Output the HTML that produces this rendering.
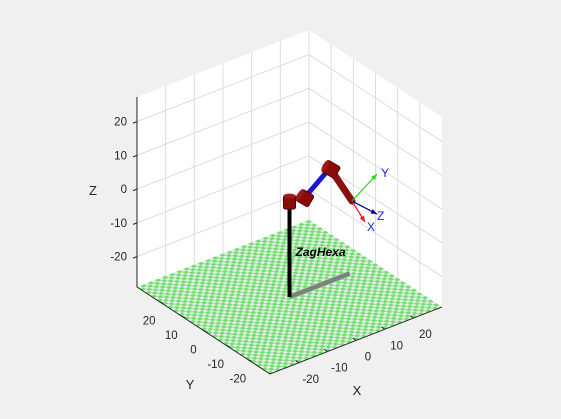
<!DOCTYPE html>
<html><head><meta charset="utf-8"><style>
html,body{margin:0;padding:0;background:#f0f0f0;}
svg{display:block;font-family:"Liberation Sans",sans-serif;}
</style></head><body>
<svg id="c" width="561" height="419" viewBox="0 0 561 419" xmlns="http://www.w3.org/2000/svg">
<rect x="0" y="0" width="561" height="419" fill="#f0f0f0"/>
<g id="walls"></g><g id="floor"></g><g id="axes"></g><g id="robot"></g>
</svg>
<script>
const xTicks=[-20,-10,0,10,20];
const yTicks=[-20,-10,0,10,20];
const zTicks=[-20,-10,0,10,20];
const xLim=[-30,30], yLim=[-30,30], zLim=[-29,27.3];
// robot joint positions (x,y,z)
const jointX=[0,5.4,14.1,21.8];
const jointY=[0,0,0,0];
const jointZ=[0,-1.2,4.5,-7.8];
const baseBarEnd=[21,0];
const NS="http://www.w3.org/2000/svg";
const O=[289.5,199.1], EX=[2.867,-1.117], EY=[-2.217,-1.45], EZ=3.375;
function P(x,y,z){return [O[0]+x*EX[0]+y*EY[0], O[1]+x*EX[1]+y*EY[1]-z*EZ];}
function el(parent,tag,attrs,name){const e=document.createElementNS(NS,tag);for(const k in attrs)e.setAttribute(k,attrs[k]);


document.getElementById(parent).appendChild(e);return e;}
function pts(a){return a.map(p=>p.join(',')).join(' ');}
const x0=xLim[0],x1=xLim[1],y0=yLim[0],y1=yLim[1],z0=zLim[0],z1=zLim[1];
// walls
el('walls','polygon',{points:pts([P(x0,y1,z1),P(x1,y1,z1),P(x1,y0,z1),P(x1,y0,z0),P(x1,y1,z0),P(x0,y1,z0)]),fill:'#fff'},'axes-background');
xTicks.forEach(t=>{const a=P(t,y1,z0),b=P(t,y1,z1);el('walls','line',{x1:a[0],y1:a[1],x2:b[0],y2:b[1],stroke:'#dcdcdc'},'x-grid-line');});
yTicks.forEach(t=>{const a=P(x1,t,z0),b=P(x1,t,z1);el('walls','line',{x1:a[0],y1:a[1],x2:b[0],y2:b[1],stroke:'#dcdcdc'},'y-grid-line');});
{const a=P(x1,y1,z0),b=P(x1,y1,z1);el('walls','line',{x1:a[0],y1:a[1],x2:b[0],y2:b[1],stroke:'#dcdcdc'},'corner-grid-line');}
zTicks.forEach(t=>{el('walls','polyline',{points:pts([P(x0,y1,t),P(x1,y1,t),P(x1,y0,t)]),fill:'none',stroke:'#dcdcdc'},'z-grid-line');});
// floor
el('floor','polygon',{points:pts([P(x0,y0,z0),P(x1,y0,z0),P(x1,y1,z0),P(x0,y1,z0)]),fill:'#e2ece2'},'floor-plane');
let d='';const N=48,s=60/N;
for(let i=0;i<N;i++)for(let j=0;j<N;j++){if((i+j)%2)continue;const xa=x0+i*s,ya=y0+j*s;
const q=[P(xa,ya,z0),P(xa+s,ya,z0),P(xa+s,ya+s,z0),P(xa,ya+s,z0)];d+='M'+q.map(p=>p[0].toFixed(1)+' '+p[1].toFixed(1)).join('L')+'Z';}
el('floor','path',{d:d,fill:'#6fe06f'},'floor-checker');
// axes lines
el('axes','polyline',{points:pts([P(x0,y1,z1),P(x0,y1,z0),P(x0,y0,z0),P(x1,y0,z0)]),fill:'none',stroke:'#262626','stroke-width':1},'axis-lines');
zTicks.forEach(t=>{const p=P(x0,y1,t);el('axes','line',{x1:p[0],y1:p[1],x2:p[0]-4,y2:p[1]+1.5,stroke:'#262626'},'z-tick');
const tx=el('axes','text',{x:p[0]-10,y:p[1]+4,'font-size':11.5,'text-anchor':'end',fill:'#262626'},'z-tick-label');tx.textContent=t;});
yTicks.forEach(t=>{const p=P(x0,t,z0);el('axes','line',{x1:p[0],y1:p[1],x2:p[0]+4,y2:p[1]+1.8,stroke:'#262626'},'y-tick');
const tx=el('axes','text',{x:p[0]-10,y:p[1]+23,'font-size':11.5,'text-anchor':'middle',fill:'#262626'},'y-tick-label');tx.textContent=t;});
xTicks.forEach(t=>{const p=P(t,y0,z0);el('axes','line',{x1:p[0],y1:p[1],x2:p[0]-3,y2:p[1]-2.5,stroke:'#262626'},'x-tick');
const tx=el('axes','text',{x:p[0]+12,y:p[1]+20,'font-size':11.5,'text-anchor':'middle',fill:'#262626'},'x-tick-label');tx.textContent=t;});
let t=el('axes','text',{x:93,y:195,'font-size':13,'text-anchor':'middle',fill:'#262626'},'z-axis-title');t.textContent='Z';
t=el('axes','text',{x:190,y:389,'font-size':13,'text-anchor':'middle',fill:'#262626'},'y-axis-title');t.textContent='Y';
t=el('axes','text',{x:357,y:395,'font-size':13,'text-anchor':'middle',fill:'#262626'},'x-axis-title');t.textContent='X';
// robot
const J=jointX.map((x,i)=>P(x,jointY[i],jointZ[i]));
const B=P(0,0,z0), BE=P(baseBarEnd[0],baseBarEnd[1],z0);
el('robot','line',{x1:B[0],y1:B[1],x2:BE[0],y2:BE[1],stroke:'#808080','stroke-width':4.5},'base-bar');
el('robot','line',{x1:B[0],y1:B[1],x2:J[0][0],y2:J[0][1],stroke:'#000','stroke-width':4},'base-pole');
t=el('robot','text',{x:J[0][0]+6,y:B[1]-41,'font-size':12,'font-weight':'bold','font-style':'italic',fill:'#000'},'robot-name-label');t.textContent='ZagHexa';
el('robot','line',{x1:J[1][0],y1:J[1][1],x2:J[2][0],y2:J[2][1],stroke:'#1a1acc','stroke-width':5},'link-2');
el('robot','line',{x1:J[0][0],y1:J[0][1],x2:J[1][0],y2:J[1][1],stroke:'#1a1acc','stroke-width':5},'link-1');
el('robot','line',{x1:J[2][0],y1:J[2][1],x2:J[3][0],y2:J[3][1],stroke:'#8b1010','stroke-width':7,'stroke-linecap':'round'},'link-3');
// joints
function cyl(c,w,h,ang,name){const g=el('robot','g',{transform:`translate(${c[0]},${c[1]}) rotate(${ang})`},name);
const r1=document.createElementNS(NS,'rect');r1.setAttribute('x',-w/2);r1.setAttribute('y',-h/2);r1.setAttribute('width',w);r1.setAttribute('height',h);r1.setAttribute('rx',2);r1.setAttribute('fill','#8b0a0a');r1.setAttribute('stroke','#5a0000');


g.appendChild(r1);
const e=document.createElementNS(NS,'ellipse');e.setAttribute('cx',0);e.setAttribute('cy',-h/2+1);e.setAttribute('rx',w/2);e.setAttribute('ry',2.5);e.setAttribute('fill','#a01818');


g.appendChild(e);}
cyl([J[0][0],J[0][1]+3],12,14,0,'joint-1');
cyl([J[1][0],J[1][1]+1],13,14,-60,'joint-2');
cyl([J[2][0]+1,J[2][1]+1],13,15,-60,'joint-3');
// end frame
const E=J[3];
function arrow(dx,dy,col,name){el('robot','line',{x1:E[0],y1:E[1],x2:E[0]+dx,y2:E[1]+dy,stroke:col,'stroke-width':1.2},name);
const L=Math.hypot(dx,dy),ux=dx/L,uy=dy/L,tx=E[0]+dx,ty=E[1]+dy;
el('robot','polygon',{points:pts([[tx,ty],[tx-6*ux-2.5*uy,ty-6*uy+2.5*ux],[tx-6*ux+2.5*uy,ty-6*uy-2.5*ux]]),fill:col},name+'-head');}
arrow(25,-27,'#22dd22','frame-y-arrow');
arrow(25,13,'#000099','frame-z-arrow');
arrow(13,21,'#ee1111','frame-x-arrow');
t=el('robot','text',{x:E[0]+29,y:E[1]-24,'font-size':12,fill:'#1a1aff'},'frame-y-label');t.textContent='Y';
t=el('robot','text',{x:E[0]+25,y:E[1]+19,'font-size':12,fill:'#1a1aff'},'frame-z-label');t.textContent='Z';
t=el('robot','text',{x:E[0]+15,y:E[1]+30,'font-size':12,fill:'#1a1aff'},'frame-x-label');t.textContent='X';
</script>
</body></html>
